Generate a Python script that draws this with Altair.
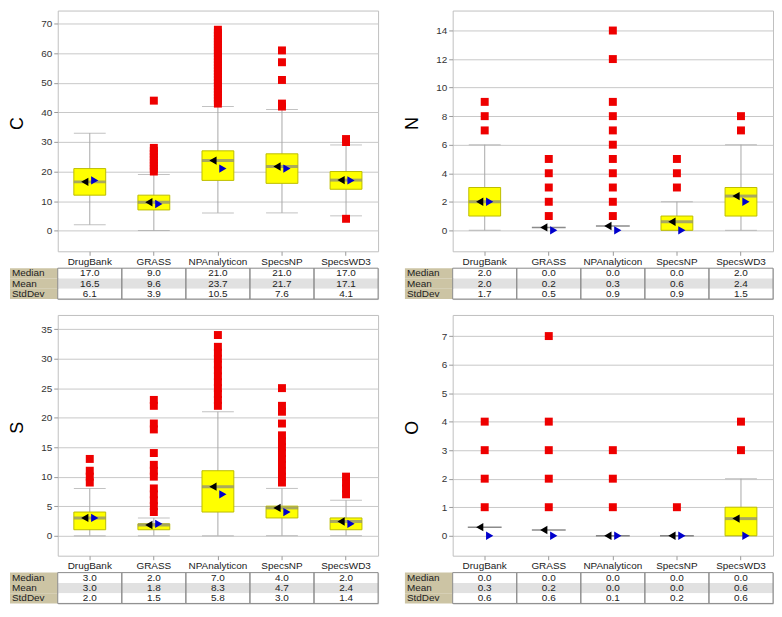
import altair as alt
import pandas as pd

FONT = "Liberation Sans"
categories = ["DrugBank", "GRASS", "NPAnalyticon", "SpecsNP", "SpecsWD3"]
stat_rows = ["Median", "Mean", "StdDev"]

# ---------------- Panel C ----------------
c_ticks = [0, 10, 20, 30, 40, 50, 60, 70]
c_domain = [-7, 74.5]
c_whisker_lo = [2, 0, 6, 6, 5]
c_whisker_hi = [33, 19, 42, 41, 29]
c_q1 = [12, 7, 17, 16, 14]
c_q3 = [21, 12, 27, 26, 20]
c_median = [17.0, 9.0, 21.0, 21.0, 17.0]
c_mean = [16.5, 9.6, 23.7, 21.7, 17.1]
c_std = [6.1, 3.9, 10.5, 7.6, 4.1]
c_outliers = [
    [],
    [20, 21, 22, 23, 24, 25, 26, 27, 28, 44],
    [43, 44, 45, 46, 47, 48, 49, 50, 51, 52, 53, 54, 55, 56, 57, 58, 59, 60,
     61, 62, 63, 64, 65, 66, 67, 68],
    [42, 43, 51, 57, 61],
    [4, 30, 31],
]

# ---------------- Panel N ----------------
n_ticks = [0, 2, 4, 6, 8, 10, 12, 14]
n_domain = [-1.47, 15.4]
n_whisker_lo = [0, None, None, 0, 0]
n_whisker_hi = [6, None, None, 2, 6]
n_q1 = [1, None, None, 0, 1]
n_q3 = [3, None, None, 1, 3]
n_median = [2.0, 0.0, 0.0, 0.0, 2.0]
n_mean = [2.0, 0.2, 0.3, 0.6, 2.4]
n_std = [1.7, 0.5, 0.9, 0.9, 1.5]
n_outliers = [
    [7, 8, 9],
    [1, 2, 3, 4, 5],
    [1, 2, 3, 4, 5, 6, 7, 8, 9, 12, 14],
    [3, 4, 5],
    [7, 8],
]

# ---------------- Panel S ----------------
s_ticks = [0, 5, 10, 15, 20, 25, 30, 35]
s_domain = [-3.4, 37.4]
s_whisker_lo = [0, 0, 0, 0, 0]
s_whisker_hi = [8, 3, 21, 8, 6]
s_q1 = [1, 1, 4, 3, 1]
s_q3 = [4, 2, 11, 5, 3]
s_median = [3.0, 2.0, 7.0, 4.0, 2.0]
s_mean = [3.0, 1.8, 8.3, 4.7, 2.4]
s_std = [2.0, 1.5, 5.8, 3.0, 1.4]
s_outliers = [
    [9, 10, 11, 13],
    [4, 5, 6, 7, 8, 10, 11, 12, 14, 18, 19, 22, 23],
    [22, 23, 24, 25, 26, 27, 28, 29, 30, 31, 32, 34],
    [9, 10, 11, 12, 13, 14, 15, 16, 17, 19, 21, 22, 25],
    [7, 8, 9, 10],
]

# ---------------- Panel O ----------------
o_ticks = [0, 1, 2, 3, 4, 5, 6, 7]
o_domain = [-0.7, 7.74]
o_whisker_lo = [None, None, None, None, 0]
o_whisker_hi = [None, None, None, None, 2]
o_q1 = [None, None, None, None, 0]
o_q3 = [None, None, None, None, 1]
o_median = [0.0, 0.0, 0.0, 0.0, 0.0]
o_mean = [0.3, 0.2, 0.0, 0.0, 0.6]
o_std = [0.6, 0.6, 0.1, 0.2, 0.6]
o_outliers = [
    [1, 2, 3, 4],
    [1, 2, 3, 4, 7],
    [1, 2, 3],
    [1],
    [3, 4],
]

W = 322
H = 242
TH = 31
BOXW = 32
LABW = 48


def make_panel(name, ticks, domain, wlo, whi, q1, q3, median, mean, std, outliers):
    summ = pd.DataFrame({
        "cat": categories,
        "wlo": wlo, "whi": whi, "q1": q1, "q3": q3,
        "median": median, "mean": mean,
    })
    summ["hasbox"] = [(a is not None and b is not None) for a, b in zip(q1, q3)]
    out_df = pd.DataFrame(
        [{"cat": c, "value": v} for c, vals in zip(categories, outliers) for v in vals]
    )

    xscale = alt.Scale(domain=categories, paddingInner=0, paddingOuter=0)
    xaxis = alt.Axis(title=None, labelAngle=0, labelFont=FONT, labelFontSize=10,
                     labelColor="#222222", labelPadding=1, tickSize=4,
                     tickColor="#999999", domain=False, grid=False,
                     labelOverlap=False)
    yscale = alt.Scale(domain=domain, nice=False, zero=False)
    yaxis = alt.Axis(values=ticks, title=name, grid=True, gridColor="#c8c8c8",
                     tickColor="#999999", tickSize=4, labelPadding=2,
                     labelFont=FONT, labelFontSize=10, labelColor="#333333",
                     domain=False, titleFont=FONT, titleFontSize=18,
                     titleFontWeight="normal", titleColor="black",
                     titleAngle=270, titleX=-40, titleY=H / 2 - 8,
                     titleAlign="center", titleBaseline="middle")

    X = alt.X("cat:N", scale=xscale, axis=xaxis, sort=categories)

    def Y(field):
        return alt.Y(field, scale=yscale, axis=yaxis)

    base = alt.Chart(summ)
    whisk = base.transform_filter("datum.wlo != null").mark_rule(
        color="#a8a8a8", strokeWidth=1).encode(x=X, y=Y("wlo:Q"), y2="whi:Q")
    cap_lo = base.transform_filter("datum.wlo != null").mark_tick(
        color="#a8a8a8", size=BOXW, thickness=1).encode(x=X, y=Y("wlo:Q"))
    cap_hi = base.transform_filter("datum.whi != null").mark_tick(
        color="#a8a8a8", size=BOXW, thickness=1).encode(x=X, y=Y("whi:Q"))
    box = base.transform_filter("datum.hasbox").mark_bar(
        size=BOXW, fill="#ffff00", stroke="#bcbc00", strokeWidth=1).encode(
        x=X, y=Y("q1:Q"), y2="q3:Q")
    mline_box = base.transform_filter("datum.hasbox").mark_tick(
        color="#858585", size=BOXW, thickness=3).encode(x=X, y=Y("mean:Q"))
    mline_nobox = base.transform_filter("!datum.hasbox").mark_tick(
        color="#5a5a5a", size=BOXW + 2, thickness=1.5).encode(x=X, y=Y("mean:Q"))
    outl = alt.Chart(out_df).mark_point(
        shape="square", filled=True, size=64, color="#ee0000", opacity=1).encode(
        x=X, y=Y("value:Q"))
    tri_mean = base.mark_point(shape="triangle-left", filled=True, size=70,
                               color="black", opacity=1, xOffset=-5).encode(
        x=X, y=Y("mean:Q"))
    tri_med = base.mark_point(shape="triangle-right", filled=True, size=70,
                              color="#0000cc", opacity=1, xOffset=5).encode(
        x=X, y=Y("median:Q"))

    plot = alt.layer(whisk, cap_lo, cap_hi, box, mline_box, mline_nobox, outl,
                     tri_mean, tri_med).properties(width=W, height=H)

    # ---------- statistics table ----------
    tdf = pd.DataFrame(
        [{"cat": c, "row": r, "text": f"{v:.1f}"}
         for r, vals in zip(stat_rows, [median, mean, std])
         for c, v in zip(categories, vals)]
    )
    lab_df = pd.DataFrame({"row": stat_rows})
    cat_df = pd.DataFrame({"cat": categories})
    txs = alt.Scale(domain=categories, paddingInner=0, paddingOuter=0)
    tys = alt.Scale(domain=stat_rows, paddingInner=0, paddingOuter=0)
    TX = alt.X("cat:N", scale=txs, axis=None, sort=categories)
    TY = alt.Y("row:N", scale=tys, axis=None, sort=stat_rows)

    cells = alt.Chart(tdf).mark_rect(strokeWidth=0).encode(
        x=TX, y=TY,
        fill=alt.condition("datum.row == 'Mean'", alt.value("#e1e1e1"),
                           alt.value("#ffffff")))
    borders = alt.Chart(cat_df).mark_rect(
        filled=False, stroke="#8c8c8c", strokeWidth=1).encode(
        x=TX, y=alt.value(0), y2=alt.value(TH))
    txt = alt.Chart(tdf).mark_text(font=FONT, fontSize=10, color="#222222").encode(
        x=TX, y=TY, text="text:N")
    lab_bg = alt.Chart(lab_df).mark_rect(fill="#ccc4a4", strokeWidth=0).encode(
        x=alt.value(-LABW), x2=alt.value(0), y=TY)
    lab_txt = alt.Chart(lab_df).mark_text(
        font=FONT, fontSize=10, color="#222222", align="left").encode(
        x=alt.value(-LABW + 2), y=TY, text="row:N")

    table = alt.layer(cells, lab_bg, borders, txt, lab_txt).properties(
        width=W, height=TH)

    return alt.vconcat(plot, table, spacing=0)


panel_c = make_panel("C", c_ticks, c_domain, c_whisker_lo, c_whisker_hi, c_q1, c_q3,
                     c_median, c_mean, c_std, c_outliers)
panel_n = make_panel("N", n_ticks, n_domain, n_whisker_lo, n_whisker_hi, n_q1, n_q3,
                     n_median, n_mean, n_std, n_outliers)
panel_s = make_panel("S", s_ticks, s_domain, s_whisker_lo, s_whisker_hi, s_q1, s_q3,
                     s_median, s_mean, s_std, s_outliers)
panel_o = make_panel("O", o_ticks, o_domain, o_whisker_lo, o_whisker_hi, o_q1, o_q3,
                     o_median, o_mean, o_std, o_outliers)

chart = alt.vconcat(
    alt.hconcat(panel_c, panel_n, spacing=24),
    alt.hconcat(panel_s, panel_o, spacing=24),
    spacing=14,
).properties(padding=0, background="white").configure_view(
    stroke="#c0c0c0", strokeWidth=1
)

chart.save("out.html", embed_options={"renderer": "svg", "actions": False})
